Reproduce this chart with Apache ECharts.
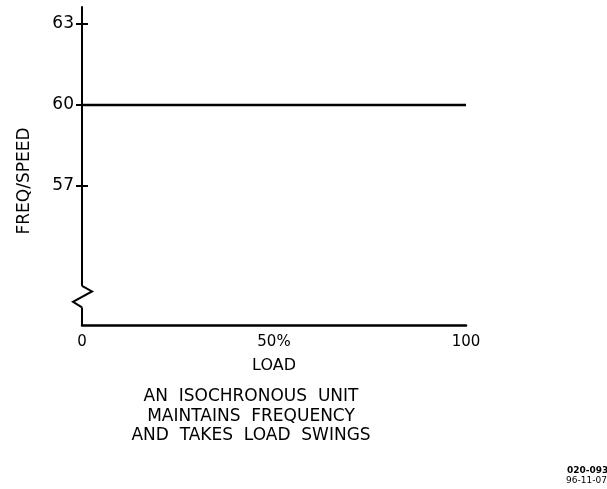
<!DOCTYPE html>
<html>
<head>
<meta charset="utf-8">
<script src="https://cdn.jsdelivr.net/npm/echarts@6/dist/echarts.min.js"></script>
<style>
html, body { margin: 0; padding: 0; background: #fff; }
#chart { width: 607px; height: 489px; }
</style>
</head>
<body>
<div id="chart"></div>
<script>
// data
var loadValues = [0, 100]
var freqValues = [60, 60]
var xTicks = [0, 50, 100]
var yTicks = [57, 60, 63]
var captionLines = ['AN  ISOCHRONOUS  UNIT', 'MAINTAINS  FREQUENCY', 'AND  TAKES  LOAD  SWINGS']

var font = 'DejaVu Sans'
var myChart = echarts.init(document.getElementById('chart'))

myChart.setOption({
  animation: false,
  backgroundColor: '#fff',
  grid: { left: 82, right: 141, top: 7, bottom: 164 },
  xAxis: {
    type: 'value',
    min: 0,
    max: 100,
    name: 'LOAD',
    nameLocation: 'middle',
    nameGap: 33,
    nameTextStyle: { color: '#000', fontFamily: font, fontSize: 16 },
    axisLine: { show: true, lineStyle: { color: '#000', width: 2.5 } },
    axisTick: { show: false },
    splitLine: { show: false },
    axisLabel: {
      customValues: xTicks,
      color: '#000',
      fontFamily: font,
      fontSize: 15,
      margin: 10,
      formatter: function (v) { return v === 50 ? '50%' : String(v) }
    }
  },
  yAxis: {
    type: 'value',
    min: 51.85,
    max: 63.63,
    axisLine: { show: true, onZero: false, lineStyle: { color: '#000', width: 2 } },
    axisTick: {
      customValues: yTicks,
      inside: false,
      length: 6,
      lineStyle: { color: '#000', width: 2 }
    },
    splitLine: { show: false },
    axisLabel: {
      customValues: yTicks,
      color: '#000',
      fontFamily: font,
      fontSize: 17,
      margin: 8
    }
  },
  series: [{
    type: 'line',
    data: loadValues.map(function (x, i) { return [x, freqValues[i]] }),
    symbol: 'none',
    lineStyle: { color: '#000', width: 2.5 }
  }]
})

function px (x, y) {
  return myChart.convertToPixel({ seriesIndex: 0 }, [x, y])
}

// decorations: right half of tick crosses, axis break, titles
var g = []
yTicks.forEach(function (v) {
  var p = px(0, v)
  g.push({ type: 'line', z: 100, shape: { x1: p[0], y1: p[1], x2: p[0] + 6, y2: p[1] }, style: { stroke: '#000', lineWidth: 2 } })
})
var brkTop = px(0, 53.3)
var brkBot = px(0, 52.5)
var ax = brkTop[0]
var h = brkBot[1] - brkTop[1]
g.push({ type: 'rect', z: 100, shape: { x: ax - 3, y: brkTop[1], width: 6, height: h }, style: { fill: '#fff' } })
g.push({
  type: 'polyline',
  z: 101,
  shape: { points: [[ax, brkTop[1]], [ax + 10, brkTop[1] + h * 0.26], [ax - 9, brkTop[1] + h * 0.74], [ax, brkBot[1]]] },
  style: { stroke: '#000', lineWidth: 2, fill: null }
})
g.push({
  type: 'text',
  z: 100,
  x: 25, y: 181,
  rotation: Math.PI / 2,
  style: { text: 'FREQ/SPEED', fill: '#000', font: '17px ' + font, align: 'center', verticalAlign: 'middle' }
})
captionLines.forEach(function (t, i) {
  g.push({
    type: 'text',
    z: 100,
    x: 251, y: 397 + i * 19.5,
    style: { text: t, fill: '#000', font: '17px ' + font, align: 'center', verticalAlign: 'middle' }
  })
})
g.push({ type: 'text', z: 100, x: 567, y: 471, style: { text: '020-093', fill: '#000', font: 'bold 9px ' + font, verticalAlign: 'middle' } })
g.push({ type: 'text', z: 100, x: 566, y: 481, style: { text: '96-11-07', fill: '#000', font: '9px ' + font, verticalAlign: 'middle' } })
myChart.setOption({ graphic: g })
</script>
</body>
</html>
